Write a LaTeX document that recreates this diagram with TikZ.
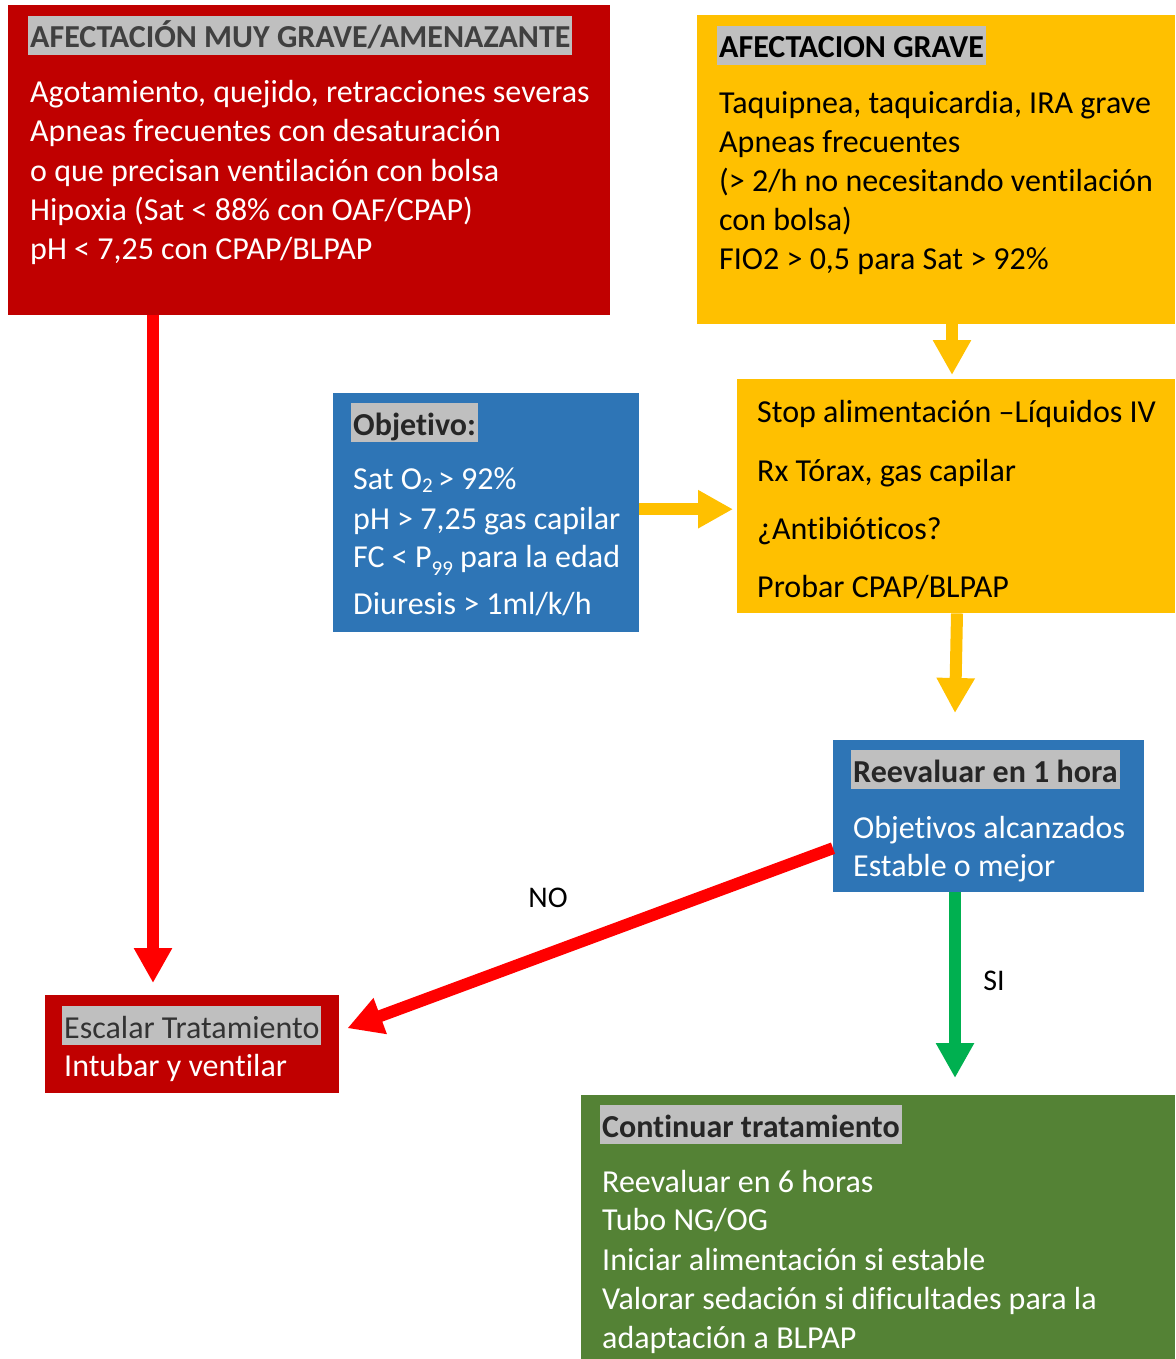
\documentclass[tikz,border=0pt]{standalone}
\usepackage{fontspec}
\setmainfont{Carlito}[Ligatures={NoCommon}]
\usetikzlibrary{arrows.meta,calc}
\definecolor{dred}{HTML}{C00000}
\definecolor{ylw}{HTML}{FFC000}
\definecolor{blu}{HTML}{2E75B6}
\definecolor{grn}{HTML}{548235}
\definecolor{hl}{HTML}{BFBFBF}
\definecolor{ared}{HTML}{FF0000}
\definecolor{agrn}{HTML}{00B050}
\definecolor{dgray}{HTML}{262626}
\newcommand{\sbt}[2]{\raisebox{#1}{\fontsize{21}{21}\selectfont #2}}
\tikzset{
  ln/.style={anchor=base west, inner sep=0pt, yshift=-2.5pt, font=\fontsize{32}{38}\selectfont},
  wt/.style={ln, text=white},
  bk/.style={ln, text=black},
  ttl/.style={anchor=base west, fill=hl, inner xsep=2pt, inner ysep=0pt, yshift=-2pt,
    text height=32pt, text depth=7pt, text=dgray, font=\fontsize{32}{38}\selectfont},
  bttl/.style={ttl, font=\bfseries\fontsize{32}{38}\selectfont},
  boxn/.style={anchor=north west, inner sep=0pt, draw=none},
  bigarrow/.style={line width=12pt, -{Triangle[length=35pt,width=36pt]}},
}
\begin{document}
\begin{tikzpicture}[x=1pt,y=-1pt]
\useasboundingbox (0,0) rectangle (1175,1359);
% boxes
\node[boxn, fill=dred, minimum width=602pt, minimum height=310pt] (red) at (8,5) {};
\node[boxn, fill=ylw, minimum width=478pt, minimum height=309pt] (y1) at (697,15) {};
\node[boxn, fill=blu, minimum width=306pt, minimum height=239pt] (obj) at (333,393) {};
\node[boxn, fill=ylw, minimum width=438pt, minimum height=234pt] (y2) at (737,379) {};
\node[boxn, fill=blu, minimum width=311pt, minimum height=152pt] (reev) at (833,740) {};
\node[boxn, fill=dred, minimum width=294pt, minimum height=98pt] (esc) at (45,995) {};
\node[boxn, fill=grn, minimum width=594pt, minimum height=264pt] (cont) at (581,1095) {};
% red box
\node[bttl, text=black!75] (rt) at (28,46) {AFECTACIÓN MUY GRAVE/AMENAZANTE};
\node[wt] (r1) at (30,100) {Agotamiento, quejido, retracciones severas};
\node[wt] (r2) at (30,139) {Apneas frecuentes con desaturación};
\node[wt] (r3) at (30,179) {o que precisan ventilación con bolsa};
\node[wt] (r4) at (30,218) {Hipoxia (Sat < 88\% con OAF/CPAP)};
\node[wt] (r5) at (30,257) {pH < 7,25 con CPAP/BLPAP};
% yellow 1
\node[bttl, text=black] (yt) at (717,56) {AFECTACION GRAVE};
\node[bk] (y11) at (719,111) {Taquipnea, taquicardia, IRA grave};
\node[bk] (y12) at (719,150) {Apneas frecuentes};
\node[bk] (y13) at (719,189) {(> 2/h no necesitando ventilación};
\node[bk] (y14) at (719,228) {con bolsa)};
\node[bk] (y15) at (719,267) {FIO2 > 0,5 para Sat > 92\%};
% objetivo
\node[bttl] (ot) at (351,433) {Objetivo:};
\node[wt] (o1) at (353,487) {Sat O\sbt{-3pt}{2}\,> 92\%};
\node[wt] (o2) at (353,527) {pH > 7,25 gas capilar};
\node[wt] (o3) at (353,565) {FC < P\sbt{-8pt}{99} para la edad};
\node[wt] (o4) at (353,612) {Diuresis > 1ml/k/h};
% yellow 2
\node[bk] (y21) at (757,420) {Stop alimentación –Líquidos IV};
\node[bk] (y22) at (757,479) {Rx Tórax, gas capilar};
\node[bk] (y23) at (757,537) {¿Antibióticos?};
\node[bk] (y24) at (757,595) {Probar CPAP/BLPAP};
% reevaluar
\node[bttl] (rvt) at (851,780) {Reevaluar en 1 hora};
\node[wt] (rv1) at (853,836) {Objetivos alcanzados};
\node[wt] (rv2) at (853,874) {Estable o mejor};
% escalar
\node[ttl, text=black!80] (et) at (62,1036) {Escalar Tratamiento};
\node[wt] (e1) at (64,1074) {Intubar y ventilar};
% continuar
\node[bttl] (ct) at (600,1135) {Continuar tratamiento};
\node[wt] (c1) at (602,1190) {Reevaluar en 6 horas};
\node[wt] (c2) at (602,1228) {Tubo NG/OG};
\node[wt] (c3) at (602,1268) {Iniciar alimentación si estable};
\node[wt] (c4) at (602,1307) {Valorar sedación si dificultades para la};
\node[wt] (c5) at (602,1346) {adaptación a BLPAP};
% labels
\node[font=\fontsize{30}{36}\selectfont, inner sep=0pt] (nolbl) at (548,898) {NO};
\node[font=\fontsize{30}{36}\selectfont, inner sep=0pt] (silbl) at (994,981) {SI};
% arrows
\draw[bigarrow, ared] ([xshift=145pt]red.south west) -- ([xshift=108pt,yshift=12pt]esc.north west);
\draw[bigarrow, ylw] ([xshift=255pt]y1.south west) -- ([xshift=215pt,yshift=4pt]y2.north west);
\draw[bigarrow, ylw] ([yshift=3.5pt]obj.east) -- ([xshift=-4pt,yshift=3.5pt]obj.east -| y2.west);
\draw[bigarrow, ylw] ([xshift=220pt]y2.south west) -- ([xshift=122pt,yshift=27pt]reev.north west);
\draw[bigarrow, ared] ([yshift=-32pt]reev.west) -- ([xshift=8pt,yshift=16pt]esc.east);
\draw[bigarrow, agrn] ([xshift=122pt]reev.south west) -- ([xshift=374pt,yshift=17pt]cont.north west);
\end{tikzpicture}
\end{document}
